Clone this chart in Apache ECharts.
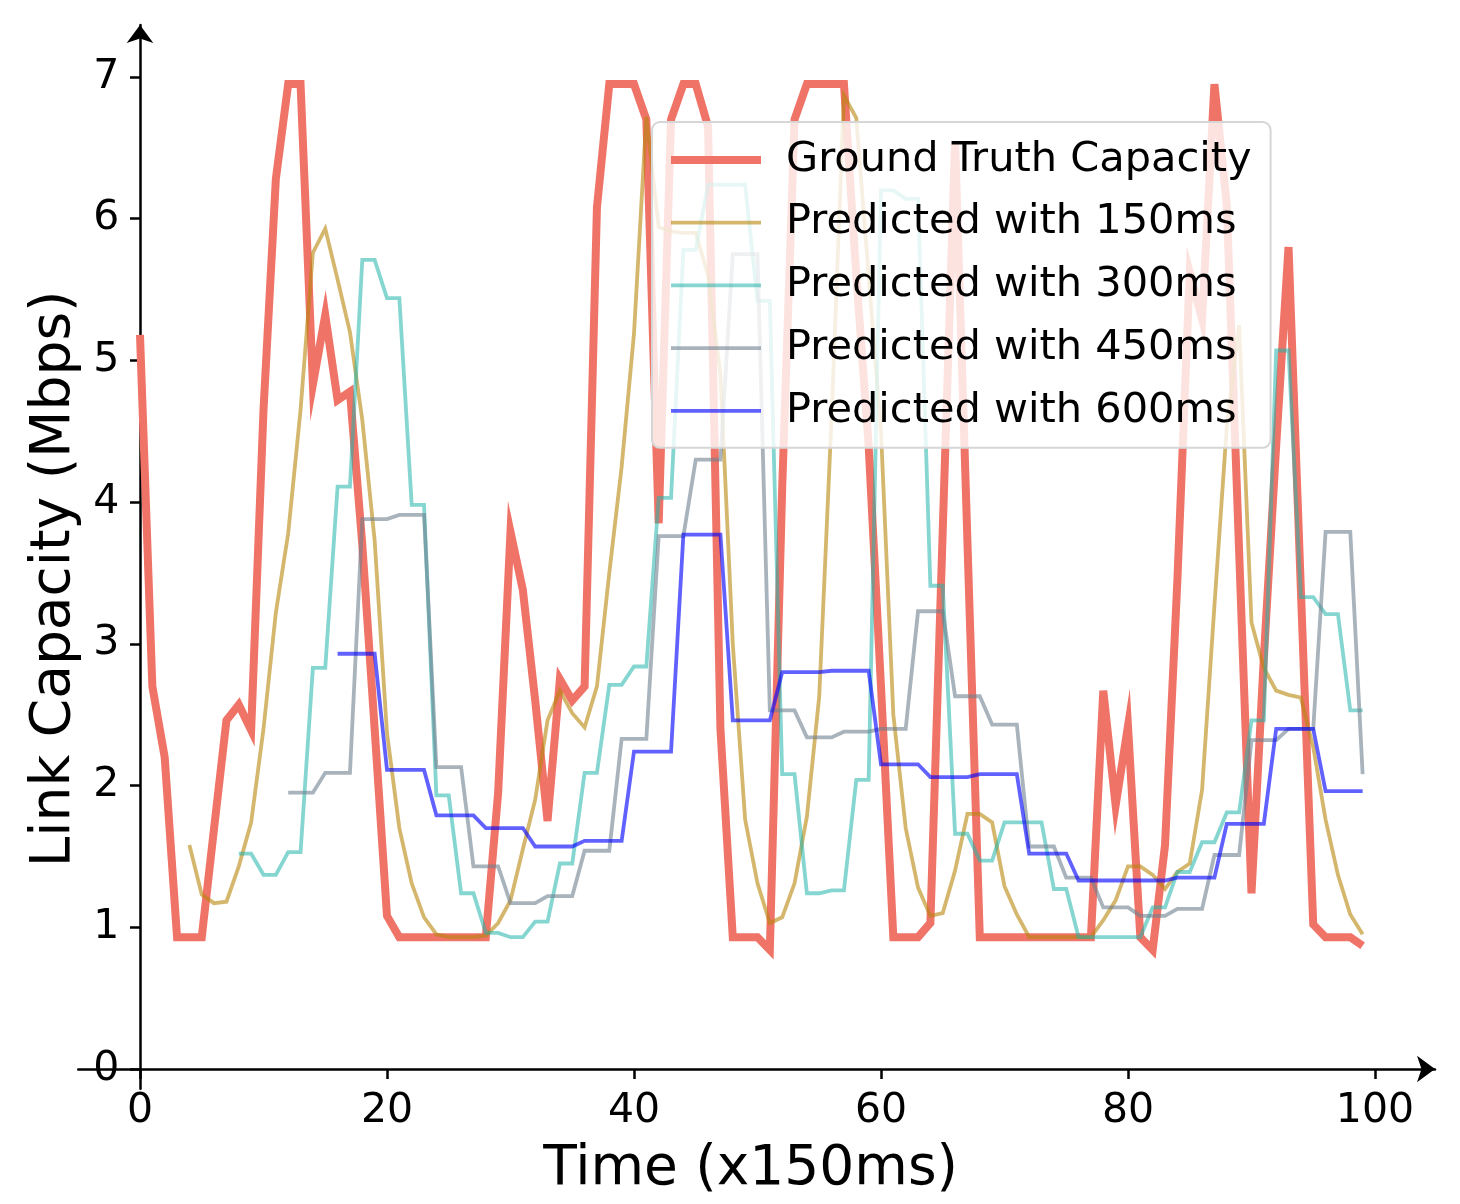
<!DOCTYPE html>
<html>
<head>
<meta charset="utf-8">
<script src="https://cdn.jsdelivr.net/npm/echarts@6/dist/echarts.min.js"></script>
<style>
html,body{margin:0;padding:0;background:#fff;}
#chart{width:1460px;height:1204px;}
</style>
</head>
<body>
<div id="chart"></div>
<script>
// Time steps (x150ms), index t = 0..99
const groundTruth = [5.18,2.70,2.20,0.93,0.93,0.93,1.70,2.46,2.57,2.39,
  4.65,6.28,6.95,6.95,4.83,5.32,4.72,4.78,3.70,2.40,
  1.08,0.93,0.93,0.93,0.93,0.93,0.93,0.93,0.93,1.95,
  3.79,3.38,2.60,1.75,2.75,2.60,2.70,6.08,6.95,6.95,
  6.95,6.70,3.85,6.70,6.95,6.95,6.65,2.40,0.93,0.93,
  0.93,0.84,4.10,6.70,6.95,6.95,6.95,6.95,5.60,4.40,
  2.70,0.93,0.93,0.93,1.03,3.80,6.55,3.72,0.93,0.93,
  0.93,0.93,0.93,0.93,0.93,0.93,0.93,0.93,2.67,1.86,
  2.42,0.93,0.84,1.58,3.45,5.62,5.29,6.95,6.10,3.65,
  1.24,2.90,4.40,5.80,3.38,1.02,0.93,0.93,0.93,0.87];
const pred150 = [null,null,null,null,1.58,1.23,1.17,1.18,1.43,1.74,
  2.40,3.22,3.78,4.65,5.76,5.93,5.57,5.20,4.58,3.73,
  2.37,1.70,1.31,1.07,0.95,0.93,0.93,0.93,0.94,1.03,
  1.19,1.55,1.90,2.46,2.67,2.51,2.41,2.70,3.50,4.25,
  5.19,6.72,5.94,5.91,5.90,5.90,5.60,4.90,3.00,1.76,
  1.31,1.03,1.07,1.31,1.78,2.63,4.60,6.87,6.71,5.60,
  4.50,2.50,1.70,1.28,1.08,1.10,1.40,1.80,1.80,1.74,
  1.29,1.09,0.93,0.93,0.93,0.93,0.93,0.93,1.05,1.19,
  1.43,1.43,1.37,1.27,1.39,1.45,1.97,3.27,4.53,5.25,
  3.15,2.83,2.67,2.64,2.62,2.27,1.76,1.37,1.09,0.95];
const pred300 = [null,null,null,null,null,null,null,null,1.52,1.52,
  1.37,1.37,1.53,1.53,2.83,2.83,4.11,4.11,5.71,5.71,
  5.44,5.44,3.98,3.98,1.93,1.93,1.24,1.24,0.96,0.96,
  0.93,0.93,1.04,1.04,1.45,1.45,2.09,2.09,2.71,2.71,
  2.84,2.84,4.03,4.03,5.78,5.78,6.24,6.24,6.24,6.24,
  5.42,5.42,2.08,2.08,1.24,1.24,1.26,1.26,2.04,2.04,
  6.20,6.20,6.14,6.14,3.41,3.41,1.66,1.66,1.47,1.47,
  1.74,1.74,1.74,1.74,1.27,1.27,0.93,0.93,0.93,0.93,
  0.93,0.93,1.14,1.14,1.39,1.39,1.60,1.60,1.81,1.81,
  2.46,2.46,5.07,5.07,3.33,3.33,3.21,3.21,2.53,2.53];
const pred450 = [null,null,null,null,null,null,null,null,null,null,
  null,null,1.95,1.95,1.95,2.09,2.09,2.09,3.88,3.88,
  3.88,3.91,3.91,3.91,2.13,2.13,2.13,1.43,1.43,1.43,
  1.17,1.17,1.17,1.22,1.22,1.22,1.54,1.54,1.54,2.33,
  2.33,2.33,3.76,3.76,3.76,4.30,4.30,4.30,5.75,5.75,
  5.75,2.53,2.53,2.53,2.34,2.34,2.34,2.38,2.38,2.38,
  2.40,2.40,2.40,3.23,3.23,3.23,2.63,2.63,2.63,2.43,
  2.43,2.43,1.57,1.57,1.57,1.35,1.35,1.35,1.14,1.14,
  1.14,1.08,1.08,1.08,1.13,1.13,1.13,1.51,1.51,1.51,
  2.32,2.32,2.32,2.40,2.40,2.40,3.79,3.79,3.79,2.08];
const pred600 = [null,null,null,null,null,null,null,null,null,null,
  null,null,null,null,null,null,2.93,2.93,2.93,2.93,
  2.11,2.11,2.11,2.11,1.79,1.79,1.79,1.79,1.70,1.70,
  1.70,1.70,1.57,1.57,1.57,1.57,1.61,1.61,1.61,1.61,
  2.24,2.24,2.24,2.24,3.77,3.77,3.77,3.77,2.46,2.46,
  2.46,2.46,2.80,2.80,2.80,2.80,2.81,2.81,2.81,2.81,
  2.15,2.15,2.15,2.15,2.06,2.06,2.06,2.06,2.08,2.08,
  2.08,2.08,1.52,1.52,1.52,1.52,1.33,1.33,1.33,1.33,
  1.33,1.33,1.33,1.33,1.35,1.35,1.35,1.35,1.73,1.73,
  1.73,1.73,2.40,2.40,2.40,2.40,1.96,1.96,1.96,1.96];
const xTicks = [0,20,40,60,80,100];
const yTicks = [0,1,2,3,4,5,6,7];
const seriesNames = ['Ground Truth Capacity','Predicted with 150ms','Predicted with 300ms','Predicted with 450ms','Predicted with 600ms'];

function pairs(arr){ return arr.map(function(v,i){ return [i, v]; }); }

const FONT = 'DejaVu Sans';
const chart = echarts.init(document.getElementById('chart'), null, {renderer:'canvas'});

const colors = ['#F07367','rgba(184,134,11,0.6)','rgba(32,178,170,0.55)','rgba(112,128,144,0.6)','rgba(0,0,255,0.62)'];
const widths = [8,3.8,3.8,3.8,3.8];
const dataSets = [groundTruth,pred150,pred300,pred450,pred600];

const axisCommon = {
  axisLine:{show:true,onZero:true,lineStyle:{color:'#000',width:2.5},symbol:['none','arrow'],symbolSize:[20,18]},
  axisTick:{show:true,inside:false,length:10,lineStyle:{color:'#000',width:2.5}},
  splitLine:{show:false}
};

chart.setOption({
  animation:false,
  backgroundColor:'#fff',
  grid:{left:78.25,top:25,width:1356.75,height:1063.8,outerBoundsMode:'none',containLabel:false},
  xAxis:Object.assign({}, axisCommon, {
    type:'value', min:-5, max:104.86,
    name:'Time (x150ms)', nameLocation:'middle', nameGap:53,
    nameTextStyle:{fontFamily:FONT,fontSize:55,color:'#000',padding:[0,12,0,0]},
    axisLabel:{show:true,customValues:xTicks,fontFamily:FONT,fontSize:41,color:'#000',margin:2},
    axisTick:Object.assign({}, axisCommon.axisTick, {customValues:xTicks})
  }),
  yAxis:Object.assign({}, axisCommon, {
    type:'value', min:-0.14, max:7.367,
    name:'Link Capacity (Mbps)', nameLocation:'middle', nameGap:-8, nameRotate:90,
    nameTextStyle:{fontFamily:FONT,fontSize:55,color:'#000',padding:[0,44,0,0]},
    axisLabel:{show:true,customValues:yTicks,fontFamily:FONT,fontSize:41,color:'#000',margin:-41,padding:[10,0,0,0]},
    axisTick:Object.assign({}, axisCommon.axisTick, {customValues:yTicks})
  }),
  legend:{
    show:true, orient:'vertical', left:652, top:122,
    padding:[16,19,15,15],
    itemWidth:90, itemHeight:14, itemGap:18.7,
    backgroundColor:'rgba(255,255,255,0.8)',
    borderColor:'#d6d6d6', borderWidth:2, borderRadius:8,
    textStyle:{fontFamily:FONT,fontSize:41.5,color:'#000',lineHeight:44,padding:[0,0,0,20]},
    data:seriesNames.map(function(n,k){
      return {name:n, lineStyle:{width:widths[k], color:colors[k]}, itemStyle:{opacity:0}};
    })
  },
  series:dataSets.map(function(arr, k){
    return {
      name:seriesNames[k], type:'line', data:pairs(arr),
      symbol:'none', showSymbol:false, connectNulls:false,
      lineStyle:{color:colors[k], width:widths[k], join:'miter', cap:'butt'},
      itemStyle:{color:colors[k]},
      emphasis:{disabled:true},
      z:2
    };
  })
});
</script>
</body>
</html>
